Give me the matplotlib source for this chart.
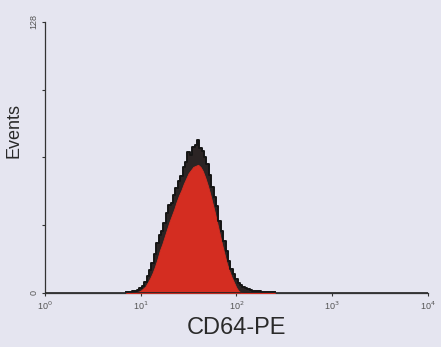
import matplotlib
matplotlib.use("Agg")
import matplotlib.pyplot as plt

# log10 fluorescence positions (decades) and event counts
log_pos = [0.850, 0.875, 0.900, 0.925, 0.950, 0.975, 1.000, 1.025, 1.050, 1.075,
           1.100, 1.125, 1.150, 1.175, 1.200, 1.225, 1.250, 1.275, 1.300, 1.325,
           1.350, 1.375, 1.400, 1.425, 1.450, 1.475, 1.500, 1.525, 1.550, 1.575,
           1.600, 1.625, 1.650, 1.675, 1.700, 1.725, 1.750, 1.775, 1.800, 1.825,
           1.850, 1.875, 1.900, 1.925, 1.950, 1.975, 2.000, 2.025, 2.050, 2.075,
           2.100, 2.125, 2.150, 2.175, 2.200, 2.225, 2.250, 2.275, 2.300, 2.325,
           2.350, 2.375, 2.400]
outline = [0.3, 0.4, 0.5, 0.8, 1.0, 1.5, 2.2, 3.4, 5.0, 7.8,
           11.0, 14.0, 18.5, 23.5, 27.5, 29.0, 33.0, 37.5, 41.5, 42.5,
           46.0, 49.5, 53.0, 55.0, 59.5, 62.0, 66.5, 65.0, 69.0, 70.0,
           72.0, 68.5, 67.0, 64.0, 61.0, 55.5, 50.0, 45.5, 41.0, 34.0,
           29.0, 24.5, 20.0, 15.0, 11.5, 9.0, 6.5, 4.8, 3.5, 2.8,
           2.3, 1.7, 1.3, 1.1, 1.0, 0.8, 0.7, 0.6, 0.5, 0.4,
           0.4, 0.3, 0.3]
filled = [0.0, 0.0, 0.0, 0.0, 0.2, 0.5, 1.0, 2.0, 3.0, 5.0,
          7.0, 9.5, 12.5, 16.0, 20.0, 23.0, 26.5, 30.0, 33.5, 36.5,
          39.5, 43.0, 46.0, 48.5, 51.5, 54.0, 56.5, 58.0, 59.5, 60.0,
          60.5, 59.5, 57.5, 54.5, 51.0, 47.0, 42.5, 38.0, 33.0, 28.0,
          23.0, 18.5, 14.0, 10.5, 7.5, 5.0, 2.5, 0.8, 0.2, 0.0,
          0.0, 0.0, 0.0, 0.0, 0.0, 0.0, 0.0, 0.0, 0.0, 0.0,
          0.0, 0.0, 0.0]

x_ticks = [0, 1, 2, 3, 4]
x_labels = ["10$^0$", "10$^1$", "10$^2$", "10$^3$", "10$^4$"]
y_ticks = [0, 32, 64, 96, 128]
y_labels = ["0", "", "", "", "128"]

BG = "#e5e5f0"
plt.rcParams["font.family"] = ["Liberation Sans", "DejaVu Sans"]

fig = plt.figure(figsize=(4.41, 3.47), dpi=100, facecolor=BG)
ax = fig.add_axes([0.102, 0.156, 0.868, 0.781], facecolor=BG)

# dark outer histogram, red histogram drawn over it
ax.fill_between(log_pos, outline, color="#2b2424", lw=0, step="mid", zorder=2)
ax.fill_between(log_pos, filled, color="#d42d21", lw=0.6, edgecolor="#d42d21", zorder=3)
ax.plot(log_pos, outline, color="#151515", lw=1.4, drawstyle="steps-mid", zorder=4)
ax.plot([0, 4], [0, 0], color="#222222", lw=1.2, zorder=5)

ax.set_xlim(0, 4)
ax.set_ylim(0, 128)
for s in ("top", "right"):
    ax.spines[s].set_visible(False)
for s in ("left", "bottom"):
    ax.spines[s].set_color("#333333")
    ax.spines[s].set_linewidth(0.9)

ax.set_xticks(x_ticks)
ax.set_xticklabels(x_labels, fontsize=6.5, color="#555555")
ax.set_yticks(y_ticks)
ax.set_yticklabels(y_labels, fontsize=6.5, color="#555555", rotation=90, va="center")
ax.tick_params(axis="both", length=2.5, width=0.8, color="#333333", pad=2)

ax.set_xlabel("CD64-PE", fontsize=17, color="#2a2a2a", labelpad=4)
ax.set_ylabel("Events", fontsize=13, color="#2a2a2a", labelpad=6)
ax.yaxis.set_label_coords(-0.06, 0.6)

fig.savefig("out.png", dpi=100, facecolor=BG)
